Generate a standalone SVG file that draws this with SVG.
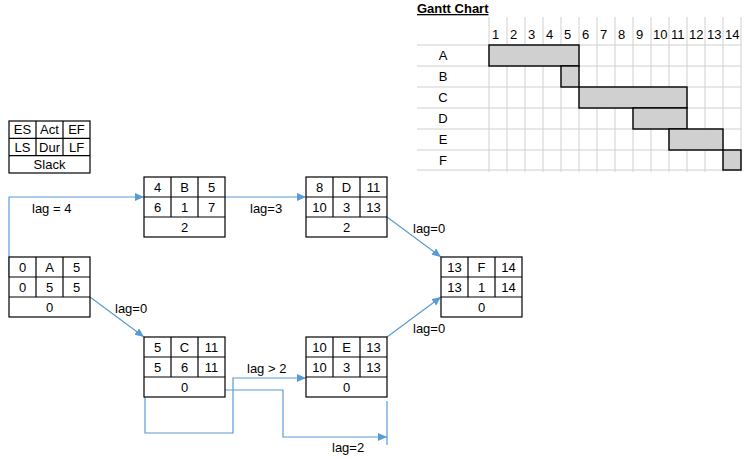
<svg xmlns="http://www.w3.org/2000/svg" width="750" height="459" viewBox="0 0 750 459">
<style>
text{font-family:"Liberation Sans",Arial,sans-serif;font-size:13px;fill:#000}
.c{text-anchor:middle}
.box{fill:#fff;stroke:#000;stroke-width:1.2}
.ln{stroke:#000;stroke-width:1.2}
.grid{stroke:#d0d0d0;stroke-width:1}
.bar{fill:#d0d0d0;stroke:#000;stroke-width:1.4}
.conn{fill:none;stroke:#5b9bd5;stroke-width:1.2}
.title{font-weight:bold;text-decoration:underline}
</style>
<defs>
<marker id="arr" markerUnits="userSpaceOnUse" markerWidth="10" markerHeight="10" refX="9" refY="4" orient="auto">
<path d="M0,0 L9,4 L0,8 Z" fill="#5b9bd5"/>
</marker>
</defs>

<rect width="750" height="459" fill="#fff"/>

<!-- Gantt chart -->
<g id="gantt">
<text class="title" x="417" y="13">Gantt Chart</text>
<g class="grid">
<line x1="489" y1="17" x2="489" y2="172"/><line x1="507" y1="17" x2="507" y2="172"/><line x1="525" y1="17" x2="525" y2="172"/><line x1="543" y1="17" x2="543" y2="172"/><line x1="561" y1="17" x2="561" y2="172"/><line x1="579" y1="17" x2="579" y2="172"/><line x1="597" y1="17" x2="597" y2="172"/><line x1="615" y1="17" x2="615" y2="172"/><line x1="633" y1="17" x2="633" y2="172"/><line x1="651" y1="17" x2="651" y2="172"/><line x1="669" y1="17" x2="669" y2="172"/><line x1="687" y1="17" x2="687" y2="172"/><line x1="705" y1="17" x2="705" y2="172"/><line x1="723" y1="17" x2="723" y2="172"/><line x1="741" y1="17" x2="741" y2="172"/>
<line x1="417" y1="45" x2="741" y2="45"/><line x1="417" y1="66" x2="741" y2="66"/><line x1="417" y1="87" x2="741" y2="87"/><line x1="417" y1="108" x2="741" y2="108"/><line x1="417" y1="129" x2="741" y2="129"/><line x1="417" y1="150" x2="741" y2="150"/><line x1="417" y1="170" x2="741" y2="170"/>
</g>
<text x="492" y="39">1</text><text x="510" y="39">2</text><text x="528" y="39">3</text><text x="546" y="39">4</text><text x="564" y="39">5</text><text x="582" y="39">6</text><text x="600" y="39">7</text><text x="618" y="39">8</text><text x="636" y="39">9</text><text x="653" y="39">10</text><text x="671" y="39">11</text><text x="689" y="39">12</text><text x="707" y="39">13</text><text x="725" y="39">14</text>
<text class="c" x="443" y="60">A</text><text class="c" x="443" y="81">B</text><text class="c" x="443" y="102">C</text><text class="c" x="443" y="123">D</text><text class="c" x="443" y="144">E</text><text class="c" x="443" y="165">F</text>
<rect class="bar" x="489" y="45" width="90" height="21"/>
<rect class="bar" x="561" y="66" width="18" height="21"/>
<rect class="bar" x="579" y="87" width="108" height="21"/>
<rect class="bar" x="633" y="108" width="54" height="21"/>
<rect class="bar" x="669" y="129" width="54" height="21"/>
<rect class="bar" x="723" y="150" width="18" height="20"/>
</g>

<!-- Legend -->
<g id="legend">
<rect class="box" x="9" y="121" width="81" height="52"/>
<line class="ln" x1="9" y1="138.3" x2="90" y2="138.3"/>
<line class="ln" x1="9" y1="155.7" x2="90" y2="155.7"/>
<line class="ln" x1="36" y1="121" x2="36" y2="155.7"/>
<line class="ln" x1="63" y1="121" x2="63" y2="155.7"/>
<text class="c" x="22.5" y="134">ES</text><text class="c" x="49.5" y="134">Act</text><text class="c" x="76.5" y="134">EF</text>
<text class="c" x="22.5" y="151.5">LS</text><text class="c" x="49.5" y="151.5">Dur</text><text class="c" x="76.5" y="151.5">LF</text>
<text class="c" x="49.5" y="169">Slack</text>
</g>

<!-- Connectors -->
<g id="connectors">
<path class="conn" d="M9,277 V197 H144" marker-end="url(#arr)"/>
<path class="conn" d="M225,197 H306" marker-end="url(#arr)"/>
<path class="conn" d="M387,217 L441,257" marker-end="url(#arr)"/>
<path class="conn" d="M387,337 L441,297" marker-end="url(#arr)"/>
<path class="conn" d="M90,297 L144,337" marker-end="url(#arr)"/>
<path class="conn" d="M145,397 V433 H233 V378 H306" marker-end="url(#arr)"/>
<path class="conn" d="M225,390 H283 V437 H387" marker-end="url(#arr)"/>
<path class="conn" d="M387,401 V445"/>
<text x="32" y="213">lag = 4</text>
<text x="250" y="213">lag=3</text>
<text x="413" y="233">lag=0</text>
<text x="413" y="333">lag=0</text>
<text x="115" y="313">lag=0</text>
<text x="247" y="373">lag &gt; 2</text>
<text x="332" y="452">lag=2</text>
</g>

<!-- Nodes -->
<g id="node-A">
<rect class="box" x="9" y="257" width="81" height="60"/>
<line class="ln" x1="9" y1="277" x2="90" y2="277"/><line class="ln" x1="9" y1="297" x2="90" y2="297"/>
<line class="ln" x1="36" y1="257" x2="36" y2="297"/><line class="ln" x1="63" y1="257" x2="63" y2="297"/>
<text class="c" x="22.5" y="272">0</text><text class="c" x="49.5" y="272">A</text><text class="c" x="76.5" y="272">5</text>
<text class="c" x="22.5" y="292">0</text><text class="c" x="49.5" y="292">5</text><text class="c" x="76.5" y="292">5</text>
<text class="c" x="49.5" y="312">0</text>
</g>
<g id="node-B">
<rect class="box" x="144" y="177" width="81" height="60"/>
<line class="ln" x1="144" y1="197" x2="225" y2="197"/><line class="ln" x1="144" y1="217" x2="225" y2="217"/>
<line class="ln" x1="171" y1="177" x2="171" y2="217"/><line class="ln" x1="198" y1="177" x2="198" y2="217"/>
<text class="c" x="157.5" y="192">4</text><text class="c" x="184.5" y="192">B</text><text class="c" x="211.5" y="192">5</text>
<text class="c" x="157.5" y="212">6</text><text class="c" x="184.5" y="212">1</text><text class="c" x="211.5" y="212">7</text>
<text class="c" x="184.5" y="232">2</text>
</g>
<g id="node-D">
<rect class="box" x="306" y="177" width="81" height="60"/>
<line class="ln" x1="306" y1="197" x2="387" y2="197"/><line class="ln" x1="306" y1="217" x2="387" y2="217"/>
<line class="ln" x1="333" y1="177" x2="333" y2="217"/><line class="ln" x1="360" y1="177" x2="360" y2="217"/>
<text class="c" x="319.5" y="192">8</text><text class="c" x="346.5" y="192">D</text><text class="c" x="373.5" y="192">11</text>
<text class="c" x="319.5" y="212">10</text><text class="c" x="346.5" y="212">3</text><text class="c" x="373.5" y="212">13</text>
<text class="c" x="346.5" y="232">2</text>
</g>
<g id="node-F">
<rect class="box" x="441" y="257" width="81" height="60"/>
<line class="ln" x1="441" y1="277" x2="522" y2="277"/><line class="ln" x1="441" y1="297" x2="522" y2="297"/>
<line class="ln" x1="468" y1="257" x2="468" y2="297"/><line class="ln" x1="495" y1="257" x2="495" y2="297"/>
<text class="c" x="454.5" y="272">13</text><text class="c" x="481.5" y="272">F</text><text class="c" x="508.5" y="272">14</text>
<text class="c" x="454.5" y="292">13</text><text class="c" x="481.5" y="292">1</text><text class="c" x="508.5" y="292">14</text>
<text class="c" x="481.5" y="312">0</text>
</g>
<g id="node-C">
<rect class="box" x="144" y="337" width="81" height="60"/>
<line class="ln" x1="144" y1="357" x2="225" y2="357"/><line class="ln" x1="144" y1="377" x2="225" y2="377"/>
<line class="ln" x1="171" y1="337" x2="171" y2="377"/><line class="ln" x1="198" y1="337" x2="198" y2="377"/>
<text class="c" x="157.5" y="352">5</text><text class="c" x="184.5" y="352">C</text><text class="c" x="211.5" y="352">11</text>
<text class="c" x="157.5" y="372">5</text><text class="c" x="184.5" y="372">6</text><text class="c" x="211.5" y="372">11</text>
<text class="c" x="184.5" y="392">0</text>
</g>
<g id="node-E">
<rect class="box" x="306" y="337" width="81" height="60"/>
<line class="ln" x1="306" y1="357" x2="387" y2="357"/><line class="ln" x1="306" y1="377" x2="387" y2="377"/>
<line class="ln" x1="333" y1="337" x2="333" y2="377"/><line class="ln" x1="360" y1="337" x2="360" y2="377"/>
<text class="c" x="319.5" y="352">10</text><text class="c" x="346.5" y="352">E</text><text class="c" x="373.5" y="352">13</text>
<text class="c" x="319.5" y="372">10</text><text class="c" x="346.5" y="372">3</text><text class="c" x="373.5" y="372">13</text>
<text class="c" x="346.5" y="392">0</text>
</g>
</svg>
